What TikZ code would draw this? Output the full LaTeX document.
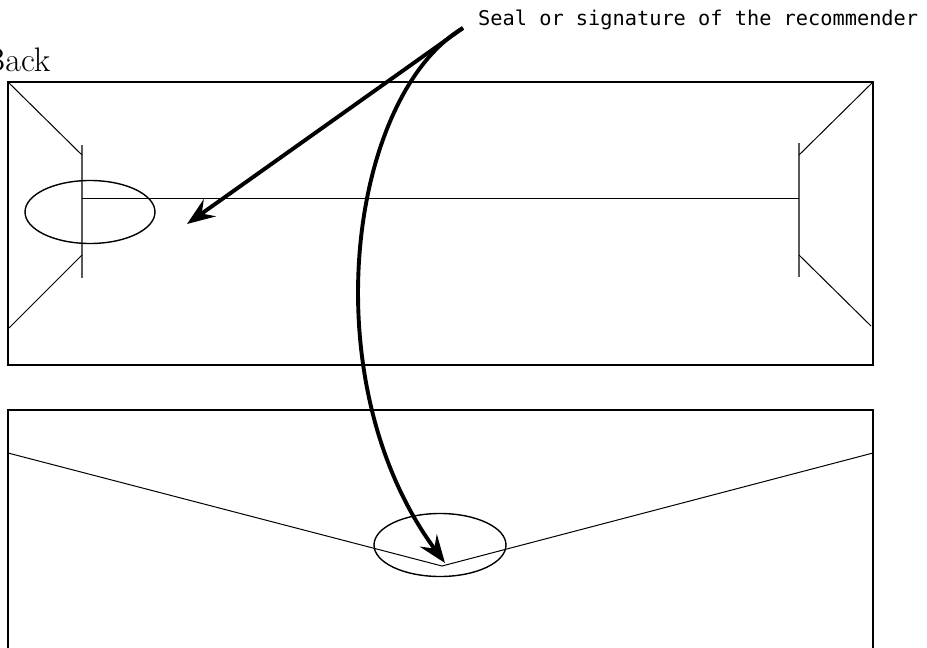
\documentclass[tikz,border=0pt]{standalone}
\usepackage{fontspec}
\newfontfamily\labelfont{DejaVu Sans Mono}
\usetikzlibrary{shapes.geometric,arrows.meta}

\tikzset{
  env/.style={black, line width=1.7pt},
  flap/.style={black, line width=1pt},
  fold/.style={black!65, line width=1.1pt},
  sealmark/.style={draw, ellipse, line width=1.4pt, inner sep=0pt, minimum height=63pt},
  pointer/.style={line width=3.9pt, -{Stealth[length=28pt, width=21pt, inset=10pt]}}
}

\begin{document}
\begin{tikzpicture}[x=1pt, y=-1pt]
	\clip (0,0) rectangle (927,648);
	\node [anchor=base west, inner sep=0pt, font=\fontsize{34}{38}\selectfont] (back) at (-17,71) {Back};
	\node [anchor=base west, inner sep=0pt, font=\labelfont\fontsize{20.3}{24}\selectfont] (label) at (478,25) {Seal or signature of the recommender};
	\draw [env] (8,82) rectangle (873,365);
	\draw [fold] (82,145) -- (82,278);
	\draw [fold] (799,143) -- (799,277);
	\draw [flap] (82,198) -- (799,198);
	\draw [flap] (8,82) -- (82,155);
	\draw [flap] (82,255) -- (9,328);
	\draw [flap] (873,82) -- (799,155);
	\draw [flap] (799,255) -- (871,326);
	\node [sealmark, minimum width=130pt] (seal1) at (90,212) {};
	\draw [env] (8,410) rectangle (873,700);
	\coordinate (vtip) at (442,566);
	\draw [flap] (8,453) -- (vtip) -- (873,453);
	\node [sealmark, minimum width=132pt] (seal2) at (440,545) {};
	\coordinate (from) at (463,28);
	\coordinate (aim1) at (187,224);
	\coordinate (aim2) at (445,563);
	\draw [pointer] (from) -- (aim1);
	\draw [pointer] (from) .. controls (350,95) and (310,380) .. (aim2);
\end{tikzpicture}
\end{document}
